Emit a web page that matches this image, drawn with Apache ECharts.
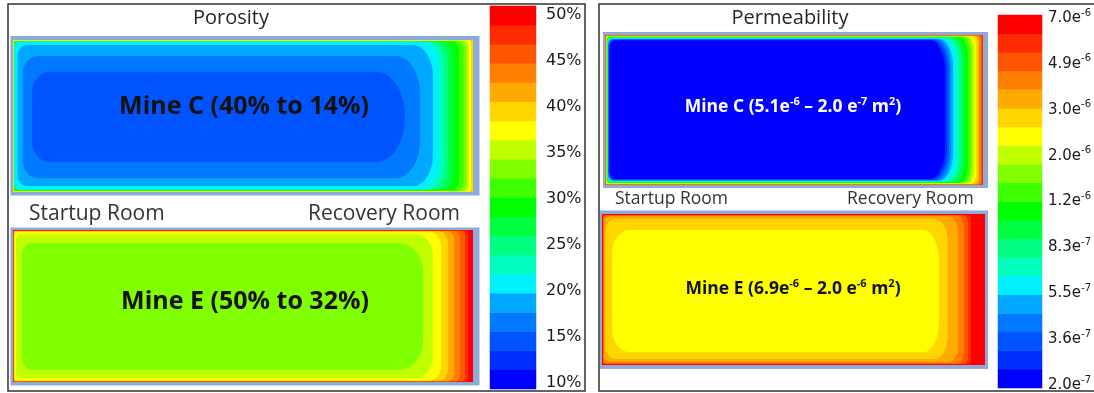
<!DOCTYPE html>
<html>
<head>
<meta charset="utf-8">
<script src="https://cdn.jsdelivr.net/npm/echarts@6/dist/echarts.min.js"></script>
<style>
  html, body { margin: 0; padding: 0; background: #ffffff; }
  #chart { width: 1094px; height: 393px; }
</style>
</head>
<body>
<div id="chart"></div>
<script>
// 20 contour classes, lowest to highest, shared by both legends
const bandColors = [
  '#0000ff', '#002eff', '#0054ff', '#0078ff', '#00a8ff',
  '#00f0ff', '#00ffbf', '#00ff80', '#00ff40', '#00ff00',
  '#40ff00', '#80ff00', '#bfff00', '#ffff00', '#ffd500',
  '#ffaa00', '#ff8000', '#ff5500', '#ff2b00', '#ff0000'
];

// Legend tick labels, bottom to top
const porosityTicks = ['10%', '15%', '20%', '25%', '30%', '35%', '40%', '45%', '50%'];
const permeabilityTicks = ['2.0e-7', '3.6e-7', '5.5e-7', '8.3e-7', '1.2e-6', '2.0e-6', '3.0e-6', '4.9e-6', '7.0e-6'];

// Legend ranges: porosity (%) linear, permeability (m²) logarithmic
const porosityRange = [10, 50];
const permeabilityRange = [1.8e-7, 7.2e-6];

// Room plan extent (m)
const roomLength = 100;
const roomWidth = 33;

// Iso-bands, outermost first. Each row:
// [inset left, inset right, inset top, inset bottom,
//  corner rx left, corner ry left, corner rx right, corner ry right (all m), band value]
const porosityMineC = [
  [0, 0, 0, 0, 0, 0, 0, 0, 38],
  [0.1, 0.4, 0.1, 0.1, 0, 0, 0.4, 0.9, 36],
  [0.15, 0.9, 0.15, 0.15, 0.2, 0.2, 0.7, 1.3, 34],
  [0.2, 1.3, 0.2, 0.2, 0.2, 0.2, 0.9, 1.7, 32],
  [0.2, 2.0, 0.2, 0.2, 0.4, 0.4, 1.3, 2.2, 30],
  [0.25, 3.0, 0.25, 0.3, 0.4, 0.4, 1.7, 2.6, 28],
  [0.3, 4.3, 0.3, 0.4, 0.7, 0.7, 2.2, 3.5, 26],
  [0.35, 5.4, 0.35, 0.5, 0.9, 0.9, 2.6, 4.3, 24],
  [0.4, 6.3, 0.45, 0.65, 1.1, 1.1, 3.0, 5.2, 22],
  [0.3, 7.4, 0.3, 0.5, 1.3, 1.3, 3.5, 6.1, 20],
  [1.0, 8.7, 1.1, 1.3, 2.2, 2.2, 4.3, 6.9, 18],
  [2.2, 11.5, 3.5, 3.0, 3.3, 3.5, 5.2, 8.2, 16],
  [4.1, 14.8, 6.9, 6.5, 3.9, 4.8, 6.1, 9.8, 14]
];

const porosityMineE = [
  [0, 0, 0, 0, 0, 0, 0, 0, 48],
  [0.1, 1.1, 0.1, 0.1, 0, 0, 0.4, 0.9, 46],
  [0.15, 1.7, 0.15, 0.15, 0.2, 0.2, 0.7, 1.3, 44],
  [0.18, 2.8, 0.2, 0.15, 0.2, 0.2, 1.1, 1.7, 42],
  [0.2, 4.1, 0.22, 0.18, 0.3, 0.3, 1.5, 2.2, 40],
  [0.22, 5.4, 0.25, 0.2, 0.4, 0.4, 2.0, 2.8, 38],
  [0.3, 6.9, 0.37, 0.28, 0.7, 0.7, 2.6, 3.5, 36],
  [0.6, 8.7, 0.95, 0.87, 1.3, 1.3, 3.5, 4.8, 34],
  [1.9, 10.8, 2.8, 2.6, 2.2, 2.8, 5.4, 6.5, 32]
];

const permeabilityMineC = [
  [0, 0, 0, 0, 0, 0, 0, 0, 5.1e-6],
  [0.1, 0.26, 0.09, 0.09, 0, 0, 0.26, 0.44, 4.5e-6],
  [0.16, 0.53, 0.13, 0.13, 0.26, 0.22, 0.53, 0.88, 3.8e-6],
  [0.21, 0.93, 0.18, 0.18, 0.26, 0.22, 0.8, 1.3, 3.1e-6],
  [0.26, 1.3, 0.22, 0.22, 0.4, 0.33, 1.06, 1.76, 2.6e-6],
  [0.32, 1.85, 0.26, 0.26, 0.53, 0.44, 1.3, 2.2, 2.2e-6],
  [0.37, 2.25, 0.31, 0.33, 0.53, 0.44, 1.6, 2.6, 1.8e-6],
  [0.42, 2.8, 0.35, 0.4, 0.66, 0.55, 1.85, 3.1, 1.5e-6],
  [0.48, 3.3, 0.4, 0.44, 0.8, 0.66, 2.1, 3.5, 1.25e-6],
  [0.53, 4.0, 0.44, 0.5, 0.8, 0.66, 2.4, 4.0, 1.0e-6],
  [0.58, 4.8, 0.5, 0.57, 0.93, 0.77, 2.65, 4.4, 8.6e-7],
  [0.63, 5.6, 0.57, 0.66, 1.06, 0.88, 2.9, 4.8, 7.2e-7],
  [0.69, 6.3, 0.66, 0.75, 1.06, 1.1, 3.2, 5.3, 6.0e-7],
  [0.74, 7.1, 0.73, 0.84, 1.2, 1.2, 3.4, 5.7, 5.0e-7],
  [0.8, 7.9, 0.8, 0.92, 1.3, 1.3, 3.7, 6.2, 4.1e-7],
  [0.87, 8.5, 0.88, 1.0, 1.3, 1.5, 3.7, 6.6, 3.4e-7],
  [0.95, 9.0, 0.97, 1.1, 1.45, 1.65, 4.0, 6.8, 2.9e-7],
  [1.06, 9.5, 1.05, 1.2, 1.6, 1.76, 4.0, 7.0, 2.4e-7],
  [1.2, 10.0, 1.15, 1.3, 1.6, 2.0, 4.0, 7.3, 2.0e-7]
];

const permeabilityMineE = [
  [0, 0, 0, 0, 0, 0, 0, 0, 6.9e-6],
  [0.2, 3.7, 0.2, 0.2, 0.3, 0.2, 0.8, 1.1, 5.1e-6],
  [0.3, 4.4, 0.3, 0.3, 0.5, 0.4, 1.3, 1.7, 4.5e-6],
  [0.4, 5.5, 0.35, 0.35, 0.8, 0.7, 1.8, 2.6, 3.8e-6],
  [0.6, 7.0, 0.55, 0.65, 1.3, 1.1, 2.6, 3.5, 3.1e-6],
  [0.9, 9.7, 1.1, 1.3, 2.6, 2.6, 3.4, 5.2, 2.6e-6],
  [2.6, 12.0, 3.5, 2.8, 4.7, 5.0, 3.9, 7.0, 2.0e-6]
];

// ---- scales -------------------------------------------------------------
const porosityEdges = bandColors.map((_, k) => porosityRange[0] + (porosityRange[1] - porosityRange[0]) * k / bandColors.length)
  .concat([porosityRange[1]]);
const permeabilityEdges = bandColors.map((_, k) => permeabilityRange[0] * Math.pow(permeabilityRange[1] / permeabilityRange[0], k / bandColors.length))
  .concat([permeabilityRange[1]]);

function classPieces(edges) {
  return bandColors.map((color, k) => (k === bandColors.length - 1)
    ? { gte: edges[k], lte: edges[k + 1], color: color }
    : { gte: edges[k], lt: edges[k + 1], color: color });
}

// legend strips: one cell per class, valued at the class middle
const porosityStrip = bandColors.map((_, k) => [0, k, (porosityEdges[k] + porosityEdges[k + 1]) / 2]);
const permeabilityStrip = bandColors.map((_, k) => [0, k, Math.sqrt(permeabilityEdges[k] * permeabilityEdges[k + 1])]);
const stripCategories = bandColors.map((_, k) => String(k));

// ---- drawing helpers ----------------------------------------------------
function renderBand(params, api) {
  const tl = api.coord([api.value(0), roomWidth - api.value(2)]);
  const br = api.coord([roomLength - api.value(1), api.value(3)]);
  const w = br[0] - tl[0];
  const h = br[1] - tl[1];
  const rl = api.size([api.value(4), api.value(5)]);
  const rr = api.size([api.value(6), api.value(7)]);
  const rxl = Math.min(rl[0], w / 2), ryl = Math.min(rl[1], h / 2);
  const rxr = Math.min(rr[0], w / 2), ryr = Math.min(rr[1], h / 2);
  const pts = [];
  const arc = (cx, cy, rx, ry, start) => {
    for (let i = 0; i <= 8; i++) {
      const a = (start + i * 90 / 8) * Math.PI / 180;
      pts.push([cx + rx * Math.cos(a), cy + ry * Math.sin(a)]);
    }
  };
  arc(br[0] - rxr, tl[1] + ryr, rxr, ryr, -90);
  arc(br[0] - rxr, br[1] - ryr, rxr, ryr, 0);
  arc(tl[0] + rxl, br[1] - ryl, rxl, ryl, 90);
  arc(tl[0] + rxl, tl[1] + ryl, rxl, ryl, 180);
  return { type: 'polygon', shape: { points: pts }, style: { fill: api.visual('color') } };
}

function fieldSeries(rows, axisIndex) {
  return {
    type: 'custom', coordinateSystem: 'cartesian2d',
    xAxisIndex: axisIndex, yAxisIndex: axisIndex,
    dimensions: ['left', 'right', 'top', 'bottom', 'rxl', 'ryl', 'rxr', 'ryr', 'value'],
    encode: { x: 0, y: 2 },
    data: rows, renderItem: renderBand, silent: true, animation: false
  };
}

function stripSeries(rows, axisIndex) {
  return {
    type: 'heatmap', xAxisIndex: axisIndex, yAxisIndex: axisIndex,
    data: rows, silent: true, animation: false, itemStyle: { borderWidth: 0 }
  };
}

function sciRich(txt) {
  const parts = txt.split('e');
  return '{m|' + parts[0] + 'e}{s|' + parts[1] + '}';
}

const fieldAxisX = (g) => ({ type: 'value', gridIndex: g, min: 0, max: roomLength, show: false });
const fieldAxisY = (g) => ({ type: 'value', gridIndex: g, min: 0, max: roomWidth, show: false });
const blankX = (g) => ({ type: 'value', gridIndex: g, show: false });

const labelAxis = (g, ticks, extra) => Object.assign({
  type: 'category', gridIndex: g, data: ticks, boundaryGap: false, position: 'right',
  axisLine: { show: false }, axisTick: { show: false }, splitLine: { show: false }
}, extra);

const FONT = '"Open Sans", "Liberation Sans", sans-serif';
const LEGEND_FONT = '"DejaVu Sans", Verdana, sans-serif';

const chart = echarts.init(document.getElementById('chart'), null, { renderer: 'canvas' });

chart.setOption({
  backgroundColor: '#ffffff',
  animation: false,
  grid: [
    { left: 13, top: 40, width: 460, height: 152 },     // porosity, Mine C
    { left: 13, top: 230, width: 460, height: 152 },    // porosity, Mine E
    { left: 490, top: 6, width: 46, height: 383 },      // porosity legend strip
    { left: 490, top: 15, width: 46, height: 368 },     // porosity legend ticks
    { left: 605, top: 35, width: 378, height: 150 },    // permeability, Mine C
    { left: 602, top: 214, width: 383, height: 151 },   // permeability, Mine E
    { left: 998, top: 15, width: 44, height: 373 },     // permeability legend strip
    { left: 998, top: 18, width: 44, height: 367 }      // permeability legend ticks
  ],
  xAxis: [
    fieldAxisX(0), fieldAxisX(1),
    { type: 'category', gridIndex: 2, data: [''], show: false },
    blankX(3),
    fieldAxisX(4), fieldAxisX(5),
    { type: 'category', gridIndex: 6, data: [''], show: false },
    blankX(7)
  ],
  yAxis: [
    fieldAxisY(0), fieldAxisY(1),
    { type: 'category', gridIndex: 2, data: stripCategories, show: false },
    labelAxis(3, porosityTicks, {
      axisLabel: { interval: 0, margin: 10, color: '#1a1a1a', fontFamily: LEGEND_FONT, fontSize: 16 }
    }),
    fieldAxisY(4), fieldAxisY(5),
    { type: 'category', gridIndex: 6, data: stripCategories, show: false },
    labelAxis(7, permeabilityTicks, {
      axisLabel: {
        interval: 0, margin: 8, formatter: sciRich,
        rich: {
          m: { color: '#1a1a1a', fontFamily: LEGEND_FONT, fontSize: 15, lineHeight: 20 },
          s: { color: '#1a1a1a', fontFamily: LEGEND_FONT, fontSize: 10, lineHeight: 12, verticalAlign: 'top' }
        }
      }
    })
  ],
  visualMap: [
    { type: 'piecewise', show: false, seriesIndex: 0, dimension: 2, pieces: classPieces(porosityEdges) },
    { type: 'piecewise', show: false, seriesIndex: [1, 2], dimension: 8, pieces: classPieces(porosityEdges) },
    { type: 'piecewise', show: false, seriesIndex: 3, dimension: 2, pieces: classPieces(permeabilityEdges) },
    { type: 'piecewise', show: false, seriesIndex: [4, 5], dimension: 8, pieces: classPieces(permeabilityEdges) }
  ],
  series: [
    stripSeries(porosityStrip, 2),
    fieldSeries(porosityMineC, 0),
    fieldSeries(porosityMineE, 1),
    stripSeries(permeabilityStrip, 6),
    fieldSeries(permeabilityMineC, 4),
    fieldSeries(permeabilityMineE, 5)
  ],
  graphic: {
    elements: [
      // room outlines
      { type: 'rect', z: 0, silent: true, shape: { x: 10.5, y: 36, width: 469, height: 159.5 }, style: { fill: '#8eaadb' } },
      { type: 'rect', z: 0, silent: true, shape: { x: 10.5, y: 227.5, width: 469, height: 158 }, style: { fill: '#8eaadb' } },
      { type: 'rect', z: 0, silent: true, shape: { x: 603, y: 32, width: 385, height: 156 }, style: { fill: '#8eaadb' } },
      { type: 'rect', z: 0, silent: true, shape: { x: 600, y: 210.5, width: 388, height: 158.5 }, style: { fill: '#8eaadb' } },
      // panel borders
      { type: 'rect', z: 20, silent: true, shape: { x: 8, y: 4, width: 577, height: 387 }, style: { fill: null, stroke: '#333333', lineWidth: 1.5 } },
      { type: 'rect', z: 20, silent: true, shape: { x: 599, y: 4, width: 510, height: 387 }, style: { fill: null, stroke: '#333333', lineWidth: 1.5 } },
      // panel titles
      { type: 'text', z: 20, silent: true, x: 231, y: 18, style: { text: 'Porosity', fill: '#262626', font: '20px ' + FONT, align: 'center', verticalAlign: 'middle' } },
      { type: 'text', z: 20, silent: true, x: 790, y: 18, style: { text: 'Permeability', fill: '#262626', font: '20px ' + FONT, align: 'center', verticalAlign: 'middle' } },
      // room names
      { type: 'text', z: 20, silent: true, x: 29, y: 214, style: { text: 'Startup Room', fill: '#333333', font: '21px ' + FONT, align: 'left', verticalAlign: 'middle' } },
      { type: 'text', z: 20, silent: true, x: 308, y: 214, style: { text: 'Recovery Room', fill: '#333333', font: '21px ' + FONT, align: 'left', verticalAlign: 'middle' } },
      { type: 'text', z: 20, silent: true, x: 615, y: 199, style: { text: 'Startup Room', fill: '#333333', font: '17.5px ' + FONT, align: 'left', verticalAlign: 'middle' } },
      { type: 'text', z: 20, silent: true, x: 847, y: 199, style: { text: 'Recovery Room', fill: '#333333', font: '17.5px ' + FONT, align: 'left', verticalAlign: 'middle' } },
      // mine annotations
      { type: 'text', z: 20, silent: true, x: 244, y: 107, style: { text: 'Mine C (40% to 14%)', fill: '#111111', font: 'bold 25px ' + FONT, align: 'center', verticalAlign: 'middle' } },
      { type: 'text', z: 20, silent: true, x: 245, y: 302, style: { text: 'Mine E (50% to 32%)', fill: '#111111', font: 'bold 25px ' + FONT, align: 'center', verticalAlign: 'middle' } },
      {
        type: 'text', z: 20, silent: true, x: 793, y: 107,
        style: {
          text: '{b|Mine C (5.1e}{s|-6}{b| – 2.0 e}{s|-7}{b| m}{s|2}{b|)}',
          align: 'center', verticalAlign: 'middle',
          rich: {
            b: { fill: '#ffffff', font: 'bold 17.5px ' + FONT, lineHeight: 22 },
            s: { fill: '#ffffff', font: 'bold 11px ' + FONT, lineHeight: 14, verticalAlign: 'top' }
          }
        }
      },
      {
        type: 'text', z: 20, silent: true, x: 793, y: 289,
        style: {
          text: '{b|Mine E (6.9e}{s|-6}{b| – 2.0 e}{s|-6}{b| m}{s|2}{b|)}',
          align: 'center', verticalAlign: 'middle',
          rich: {
            b: { fill: '#111111', font: 'bold 17.5px ' + FONT, lineHeight: 22 },
            s: { fill: '#111111', font: 'bold 11px ' + FONT, lineHeight: 14, verticalAlign: 'top' }
          }
        }
      }
    ]
  }
});
</script>
</body>
</html>
